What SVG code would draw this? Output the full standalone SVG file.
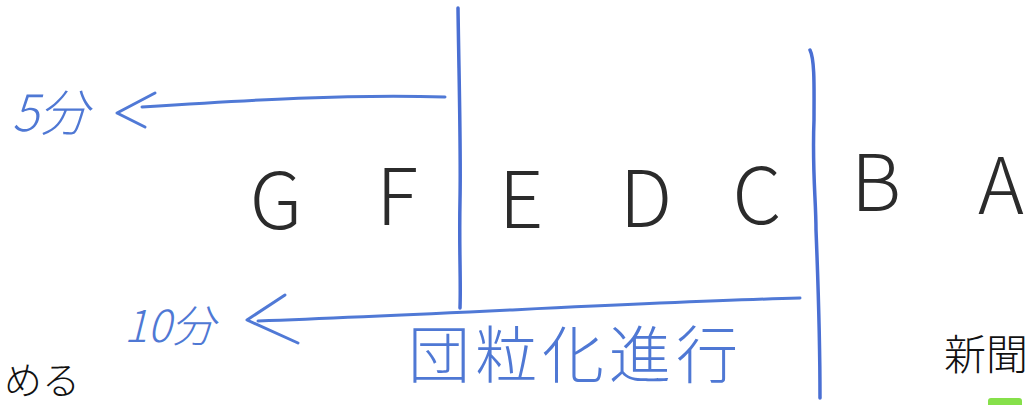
<svg xmlns="http://www.w3.org/2000/svg" width="1029" height="405" viewBox="0 0 1029 405">
<style>
.ink{fill:none;stroke:#5079d6;stroke-width:3;stroke-linecap:round;stroke-linejoin:round}
.div{fill:none;stroke:#4a6fd3;stroke-width:3.5;stroke-linecap:round}
.let{font-family:"Noto Sans CJK JP","DejaVu Sans",sans-serif;font-weight:200;font-size:78px;fill:#2b2b2b;text-anchor:middle}
.blue{font-family:"Noto Sans CJK JP","DejaVu Sans",sans-serif;font-weight:300;fill:#4f78d4}
.blk{font-family:"Noto Sans CJK JP","Noto Sans CJK SC",sans-serif;font-weight:300;fill:#111}
</style>
<rect width="1029" height="405" fill="#ffffff"/>
<g id="dividers">
<path class="div" d="M458,8 C459,80 461,150 460,200 C459,250 461,280 460,308"/>
<path class="div" d="M810,50 C815,60 814,90 814,120 C812,170 816,200 816,230 C818,280 820,330 820,398"/>
</g>
<g id="connectors">
<path class="ink" d="M445,97 C350,94 250,100 142,107"/>
<path class="ink" d="M155,93 L117,113 L145,127"/>
<path class="ink" d="M800,298 C650,302 450,314 258,321"/>
<path class="ink" d="M285,295 L247,320 L298,343"/>
</g>
<g id="node-G"><text class="let" x="276" y="229">G</text></g>
<g id="node-F"><text class="let" x="397" y="225">F</text></g>
<g id="node-E"><text class="let" x="521" y="228">E</text></g>
<g id="node-D"><text class="let" x="646" y="227">D</text></g>
<g id="node-C"><text class="let" x="757" y="224">C</text></g>
<g id="node-B"><text class="let" x="876" y="211">B</text></g>
<g id="node-A"><text class="let" x="1001" y="214">A</text></g>
<g id="label-5min"><text class="blue" x="12" y="131" font-size="50" font-style="italic">5分</text></g>
<g id="label-10min"><text class="blue" x="124" y="342" font-size="44" font-style="italic">10分</text></g>
<g id="label-dan"><text class="blue" x="408" y="378" font-size="62" letter-spacing="5">団粒化進行</text></g>
<g id="text-meru"><text class="blk" x="4" y="394" font-size="38">める</text></g>
<g id="text-shinbun"><text class="blk" x="944" y="370" font-size="42">新聞</text></g>
<rect x="988" y="398" width="34" height="9" rx="3" fill="#86e04a"/>
</svg>
